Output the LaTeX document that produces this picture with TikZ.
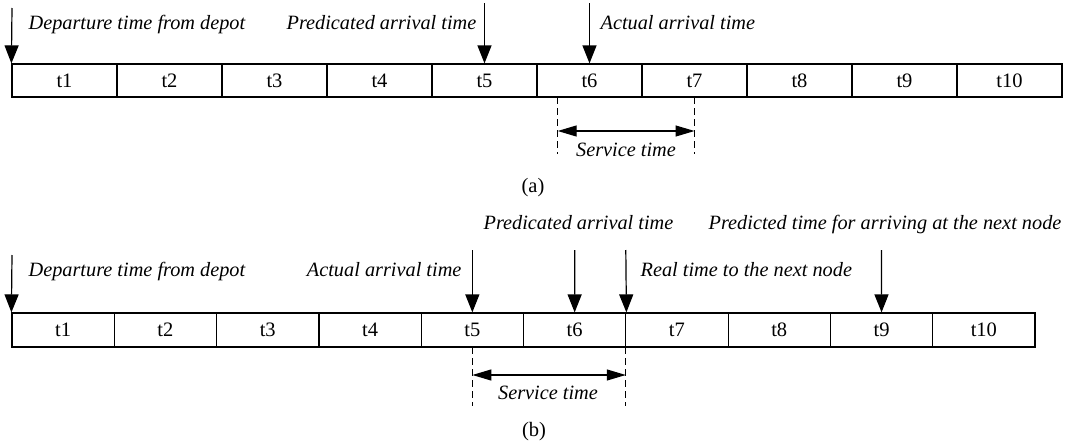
\documentclass[tikz,border=0pt]{standalone}
\usepackage{fontspec}
\setmainfont{Liberation Serif}
\usetikzlibrary{arrows.meta}
\begin{document}
\begin{tikzpicture}[x=1pt,y=-1pt,
  line width=1.2pt,
  cellA/.style={draw, inner sep=0pt, minimum width=105pt, minimum height=33pt, font=\fontsize{20}{24}\selectfont},
  cellB/.style={draw, inner sep=0pt, minimum width=102.3pt, minimum height=34pt, font=\fontsize{20}{24}\selectfont},
  lbl/.style={inner sep=0pt, font=\fontsize{20.3}{24}\selectfont\itshape},
  plaintext/.style={inner sep=0pt, font=\fontsize{20.5}{24}\selectfont},
  downarrow/.style={-{Triangle[length=18pt,width=14pt]}},
  twoway/.style={{Triangle[length=19pt,width=11pt]}-{Triangle[length=19pt,width=11pt]}},
  guide/.style={dash pattern=on 7pt off 4pt}]
\useasboundingbox (0,0) rectangle (1068,447);

% ---------- (a) ----------
\foreach \k in {1,...,10}{
  \node[cellA] (a\k) at ({12+105*(\k-0.5)},80.5) {};
  \node[plaintext, anchor=base] (ta\k) at ({12+105*(\k-0.5)},87) {t\k};
}
\coordinate (aDep) at (12,8);
\coordinate (aPre) at (484.5,3);
\coordinate (aAct) at (589.5,3);
\draw[downarrow] (aDep) -- (a1.north west);
\draw[downarrow] (aPre) -- (a5.north);
\draw[downarrow] (aAct) -- (a6.north);
\node[lbl, anchor=base west] (tADep) at (28,29) {Departure time from depot};
\node[lbl, anchor=base east] (tAPre) at (477,29) {Predicated arrival time};
\node[lbl, anchor=base west] (tAAct) at (600,29) {Actual arrival time};

\coordinate (aS1) at (557.7,97);
\coordinate (aS2) at (694.5,97);
\coordinate (aE1) at (557.7,154);
\coordinate (aE2) at (694.5,154);
\coordinate (aM1) at (557.7,131);
\coordinate (aM2) at (694.5,131);
\draw[guide] (aS1) -- (aE1);
\draw[guide] (aS2) -- (aE2);
\draw[twoway] (aM1) -- (aM2);
\node[lbl, anchor=base] (tASrv) at (626,156) {Service time};
\node[plaintext, anchor=base] (capA) at (533,192) {(a)};

% ---------- (b) ----------
\foreach \k in {1,...,10}{
  \node[cellB] (b\k) at ({12+102.3*(\k-0.5)},330) {};
  \node[plaintext, anchor=base] (tb\k) at ({12+102.3*(\k-0.5)},336) {t\k};
}
\coordinate (bDep) at (12,255);
\coordinate (bAct) at (472.35,250);
\coordinate (bPre) at (574.65,250);
\coordinate (bReal) at (625.8,250);
\coordinate (bNext) at (881.4,250);
\draw[downarrow] (bDep) -- (b1.north west);
\draw[downarrow] (bAct) -- (b5.north);
\draw[downarrow] (bPre) -- (b6.north);
\draw[downarrow] (bReal) -- (b6.north east);
\draw[downarrow] (bNext) -- (b9.north);
\node[lbl, anchor=base west] (tBDep) at (28,276) {Departure time from depot};
\node[lbl, anchor=base east] (tBAct) at (462,276) {Actual arrival time};
\node[lbl, anchor=base] (tBPre) at (578.5,229) {Predicated arrival time};
\node[lbl, anchor=base east] (tBNext) at (1062,229) {Predicted time for arriving at the next node};
\node[lbl, anchor=base west] (tBReal) at (640,276) {Real time to the next node};

\coordinate (bS1) at (472.35,347);
\coordinate (bS2) at (625.8,347);
\coordinate (bE1) at (472.35,406);
\coordinate (bE2) at (625.8,406);
\coordinate (bM1) at (472.35,375);
\coordinate (bM2) at (625.8,375);
\draw[guide] (bS1) -- (bE1);
\draw[guide] (bS2) -- (bE2);
\draw[twoway] (bM1) -- (bM2);
\node[lbl, anchor=base] (tBSrv) at (548,399) {Service time};
\node[plaintext, anchor=base] (capB) at (534,436) {(b)};
\end{tikzpicture}
\end{document}
